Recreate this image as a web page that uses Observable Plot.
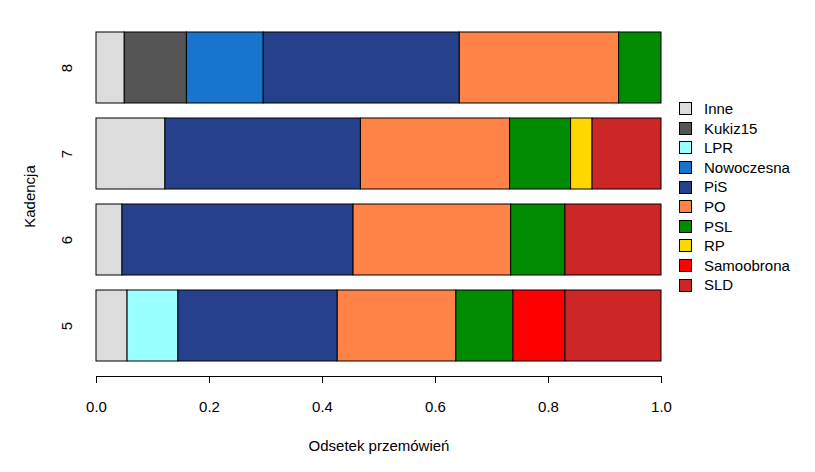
<!DOCTYPE html>
<html><head><meta charset="utf-8">
<script src="https://cdn.jsdelivr.net/npm/d3@7"></script>
<script src="https://cdn.jsdelivr.net/npm/@observablehq/plot@0.6"></script>
<style>
body{margin:0;background:#fff;font-family:"Liberation Sans",Arial,sans-serif;}
#wrap{position:relative;width:815px;height:472px;overflow:hidden;}
#legend{position:absolute;left:679px;top:99px;font-size:15px;color:#000;}
.row{height:19.6px;line-height:19.6px;position:relative;white-space:nowrap;}
.sw{position:absolute;left:0;top:3.3px;width:13px;height:13px;border:1px solid #000;box-sizing:border-box;}
.lb{position:absolute;left:25px;top:0;}
</style></head><body><div id="wrap"></div>
<script>
// Kadencje (top to bottom) and parties
const kadencje = ["8","7","6","5"];
const parties = ["Inne","Kukiz15","LPR","Nowoczesna","PiS","PO","PSL","RP","Samoobrona","SLD"];
const colors = ["#dcdcdc","#555555","#99ffff","#1874cd","#27408b","#ff8247","#008b00","#ffd700","#ff0000","#cd2626"];
// shares per kadencja, in parties order
const share8 = [0.050,0.110,0,0.136,0.347,0.282,0.075,0,0,0];
const share7 = [0.122,0,0,0,0.346,0.264,0.108,0.038,0,0.122];
const share6 = [0.046,0,0,0,0.409,0.279,0.096,0,0,0.170];
const share5 = [0.055,0,0.090,0,0.282,0.210,0.101,0,0.092,0.170];
const xTicks = [0,0.2,0.4,0.6,0.8,1.0];

const shares = {"8":share8,"7":share7,"6":share6,"5":share5};
const data = [];
for (const k of kadencje) parties.forEach((p,i)=>{ if (shares[k][i]>0) data.push({kadencja:k, partia:p, odsetek:shares[k][i]}); });

const chart = Plot.plot({
  width: 815, height: 472,
  marginLeft: 96, marginRight: 154, marginTop: 16, marginBottom: 96,
  style: {fontFamily: '"Liberation Sans", Arial, sans-serif', fontSize: "15px", color: "#000", background: "#fff"},
  x: {domain: [0,1]},
  y: {domain: kadencje, range: [32, 361], paddingInner: 0.175, paddingOuter: 0},
  color: {domain: parties, range: colors},
  marks: [
    Plot.barX(data, Plot.stackX({x: "odsetek", y: "kadencja", fill: "partia", z: "partia", order: parties, stroke: "#000", strokeWidth: 1})),
    Plot.frame({anchor: "bottom", stroke: "#000"}),
    Plot.axisX({ticks: xTicks, tickFormat: d3.format(".1f"), tickSize: 7, tickPadding: 18, label: "Odsetek przemówień", labelAnchor: "center", labelOffset: 74, labelArrow: "none", fontSize: 15}),
    Plot.axisY({ticks: [], label: null}),
    Plot.text(kadencje, {y: d=>d, text: d=>d, frameAnchor: "left", textAnchor: "middle", dx: -29, rotate: -90, fontSize: 15, fill: "#000"}),
    Plot.text(["Kadencja"], {text: d=>d, frameAnchor: "left", textAnchor: "middle", dx: -66, rotate: -90, fontSize: 15, fill: "#000"})
  ]
});
const wrap = document.getElementById("wrap");
wrap.appendChild(chart);
const leg = document.createElement("div");
leg.id = "legend";
parties.forEach((p,i)=>{
  const r = document.createElement("div"); r.className = "row";
  const s = document.createElement("div"); s.className = "sw"; s.style.background = colors[i];
  const t = document.createElement("span"); t.className = "lb"; t.textContent = p;
  r.appendChild(s); r.appendChild(t); leg.appendChild(r);
});
wrap.appendChild(leg);
</script></body></html>
